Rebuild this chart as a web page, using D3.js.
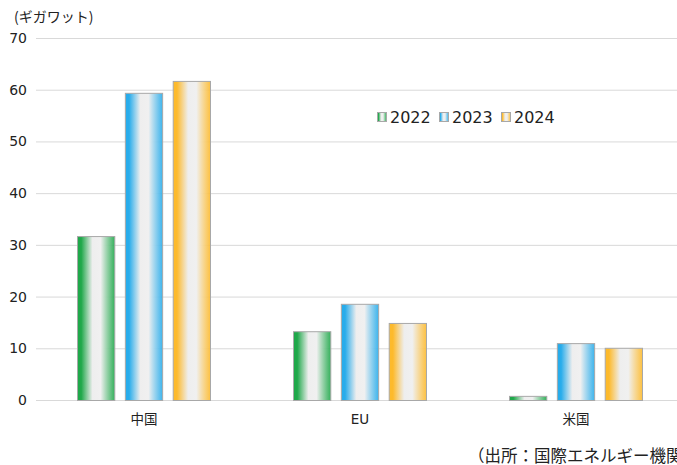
<!DOCTYPE html>
<html>
<head>
<meta charset="utf-8">
<script src="https://cdn.jsdelivr.net/npm/d3@7"></script>
<style>
  body { margin: 0; background: #fff; }
  svg { display: block; font-family: "DejaVu Sans", "Noto Sans CJK JP", sans-serif; }
</style>
</head>
<body>
<div id="chart"></div>
<script>
const categories = ["中国", "EU", "米国"];
const years = ["2022", "2023", "2024"];
const values2022 = [31.7, 13.3, 0.8];
const values2023 = [59.4, 18.6, 11.0];
const values2024 = [61.7, 14.9, 10.1];
const yTicks = [0, 10, 20, 30, 40, 50, 60, 70];
const colors = ["#1fa84a", "#28aceb", "#fdba2c"];

const seriesValues = [values2022, values2023, values2024];

const svgWidth = 677, svgHeight = 465;
const margin = { top: 38, left: 36, bottom: 65 };
const plotRight = 684;

const svg = d3.select("#chart").append("svg")
    .attr("width", svgWidth)
    .attr("height", svgHeight);

const defs = svg.append("defs");
colors.forEach((c, i) => {
    const g = defs.append("linearGradient")
        .attr("id", "grad" + i)
        .attr("x1", "0%").attr("x2", "100%")
        .attr("y1", "0%").attr("y2", "0%");
    g.append("stop").attr("offset", "0%").attr("stop-color", c);
    g.append("stop").attr("offset", "10%").attr("stop-color", c);
    g.append("stop").attr("offset", "40%").attr("stop-color", "#eeeeee");
    g.append("stop").attr("offset", "62%").attr("stop-color", "#f0f0f0");
    g.append("stop").attr("offset", "100%").attr("stop-color", c).attr("stop-opacity", 0.9);
});

const yScale = d3.scaleLinear().domain([0, 70]).range([svgHeight - margin.bottom, margin.top]);
const x0 = d3.scaleBand().domain(categories).range([margin.left, plotRight]);
const x1 = d3.scaleBand().domain(years).paddingInner(0.2).paddingOuter(0);

// bars sit in the middle part of each band
const groupWidth = 134;
x1.range([(x0.bandwidth() - groupWidth) / 2, (x0.bandwidth() + groupWidth) / 2]);

// grid
svg.append("g")
    .attr("transform", "translate(" + margin.left + ",0)")
    .call(d3.axisLeft(yScale).tickValues(yTicks).tickSize(-(plotRight - margin.left)).tickPadding(8))
    .call(g => {
        g.select(".domain").remove();
        g.selectAll("line").attr("stroke", "#d9d9d9").attr("stroke-width", 1);
        g.selectAll("text")
            .attr("fill", "#222")
            .attr("font-size", "14px")
            .attr("font-family", "DejaVu Sans, sans-serif")
            .attr("x", -9);
    });

// bars
const groups = svg.append("g").selectAll("g")
    .data(categories)
    .join("g")
    .attr("transform", d => "translate(" + x0(d) + ",0)");

groups.selectAll("rect")
    .data((d, ci) => years.map((y, si) => ({ year: y, si: si, value: seriesValues[si][ci] })))
    .join("rect")
    .attr("x", d => x1(d.year) + 0.5)
    .attr("y", d => yScale(d.value) + 0.5)
    .attr("width", x1.bandwidth() - 1)
    .attr("height", d => yScale(0) - yScale(d.value))
    .attr("fill", d => "url(#grad" + d.si + ")")
    .attr("stroke", "#a8a8a8")
    .attr("stroke-width", 1);

// category labels
svg.append("g")
    .attr("transform", "translate(0," + yScale(0) + ")")
    .call(d3.axisBottom(x0).tickSize(0).tickPadding(14))
    .call(g => {
        g.select(".domain").remove();
        g.selectAll("text")
            .attr("fill", "#222")
            .attr("font-size", "13.5px")
            .attr("font-family", "DejaVu Sans, Noto Sans CJK JP, sans-serif");
    });

// legend
const legend = svg.append("g").attr("transform", "translate(377,117)");
const legendX = [0, 62, 124];
years.forEach((y, i) => {
    const lg = legend.append("g").attr("transform", "translate(" + legendX[i] + ",0)");
    lg.append("rect")
        .attr("x", 0.5).attr("y", -4.5)
        .attr("width", 9).attr("height", 9)
        .attr("fill", "url(#grad" + i + ")")
        .attr("stroke", "#a8a8a8");
    lg.append("text")
        .attr("x", 13).attr("y", 0)
        .attr("dy", "0.36em")
        .attr("font-size", "16px")
        .attr("fill", "#222")
        .text(y);
});

// unit label
svg.append("text")
    .attr("x", 14).attr("y", 22)
    .attr("font-size", "14px")
    .attr("font-family", "Noto Sans CJK JP, sans-serif")
    .attr("fill", "#222")
    .text("(ギガワット)");

// source (runs off the right edge, as in the original)
svg.append("text")
    .attr("x", 468).attr("y", 462)
    .attr("font-size", "16.5px")
    .attr("font-family", "Noto Sans CJK JP, sans-serif")
    .attr("fill", "#222")
    .text("（出所：国際エネルギー機関）");
</script>
</body>
</html>
